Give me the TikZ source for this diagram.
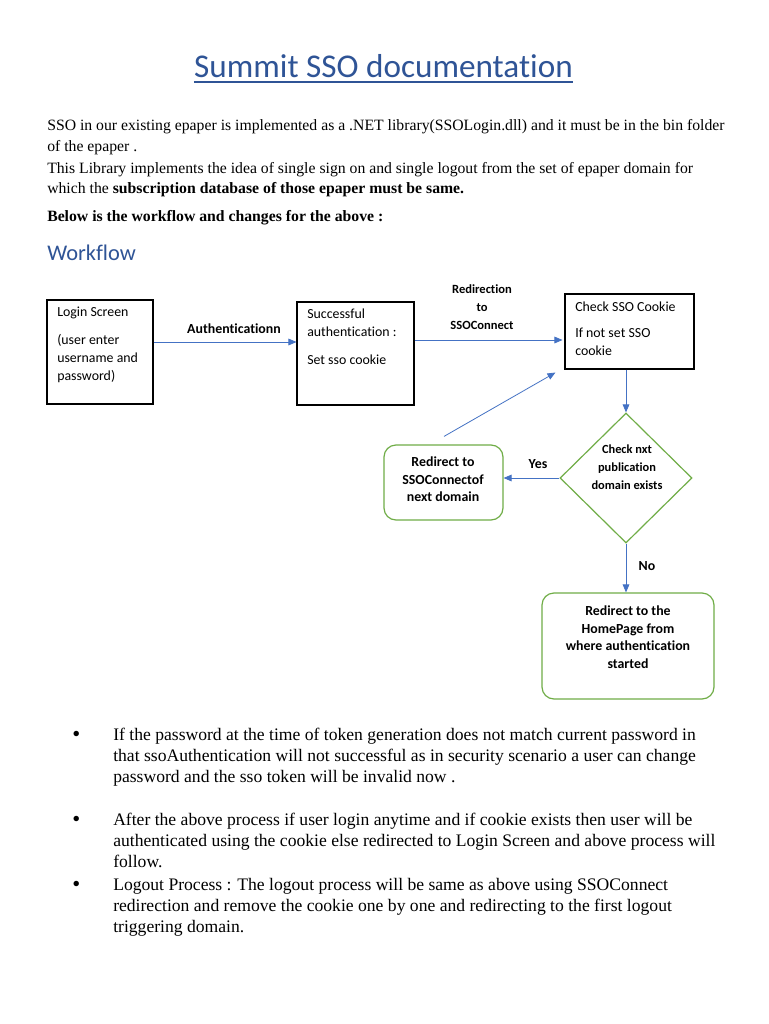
\documentclass[tikz,border=0pt]{standalone}
\usepackage{fontspec}
\setmainfont{Liberation Serif}
\newfontfamily\calibri{Carlito}[Ligatures=NoCommon]
\usetikzlibrary{arrows.meta,shapes.geometric}
\definecolor{titleblue}{HTML}{2F5496}
\definecolor{flowblue}{HTML}{4472C4}
\definecolor{boxgreen}{HTML}{70AD47}
\begin{document}
\begin{tikzpicture}[x=0.75pt, y=-0.75pt,
    para/.style={anchor=base west, inner sep=0pt, font=\fontsize{11.8}{13}\selectfont},
    item/.style={anchor=base west, inner sep=0pt, font=\fontsize{13.2}{15}\selectfont},
    dot/.style={anchor=base west, inner sep=0pt, font=\fontsize{17}{15}\selectfont},
    plainbox/.style={draw=black, line width=0.8pt, inner sep=0pt},
    greenbox/.style={draw=boxgreen, line width=0.9pt, rounded corners=9pt, inner sep=0pt},
    boxtext/.style={anchor=north west, inner sep=0pt, align=left, font=\calibri\fontsize{10.4}{13.5}\selectfont},
    greentext/.style={inner sep=0pt, align=center, font=\calibri\bfseries\fontsize{10.4}{13.2}\selectfont},
    flowlabel/.style={inner sep=0pt, align=center, font=\calibri\bfseries\fontsize{10.4}{13.5}\selectfont},
    flow/.style={draw=flowblue, line width=0.6pt, -{Triangle[length=6pt,width=5pt]}}]
    \useasboundingbox[fill=white] (0,0) rectangle (768,1024);

    % heading and text above the workflow
    \node[anchor=base, inner sep=0pt, text=titleblue, font=\calibri\fontsize{24.9}{28}\selectfont] (title) at (383.5,78) {Summit SSO documentation};
    \draw[titleblue, line width=0.9pt] ([shift={(0,4)}]title.base west) -- ([shift={(0,4)}]title.base east);
    \node[para] (p1) at (47,130) {SSO in our existing epaper is implemented as a .NET library(SSOLogin.dll) and it must be in the bin folder};
    \node[para] (p2) at (47,151) {of the epaper .};
    \node[para] (p3) at (47,173) {This Library implements the idea of single sign on and single logout from the set of epaper domain for};
    \node[para] (p4) at (47,193) {which the \textbf{subscription database of those epaper must be same.}};
    \node[para] (p5) at (47,221) {\textbf{Below is the workflow and changes for the above :}};
    \node[anchor=base west, inner sep=0pt, text=titleblue, font=\calibri\fontsize{16.8}{20}\selectfont] (workflow) at (47,260) {Workflow};

    % boxes
    \node[plainbox, minimum width=79.5pt, minimum height=78pt] (login) at (100,352) {};
    \node[plainbox, minimum width=87.75pt, minimum height=77.25pt] (success) at (355.5,353.5) {};
    \node[plainbox, minimum width=96.75pt, minimum height=56.25pt] (check) at (629.5,331.5) {};
    \node[draw=boxgreen, line width=0.9pt, diamond, inner sep=0pt, minimum width=99pt, minimum height=97.5pt] (nxt) at (626,478) {};
    \node[greenbox, minimum width=89.25pt, minimum height=56.25pt] (redir) at (443.5,482.5) {};
    \node[greenbox, minimum width=129pt, minimum height=79.5pt] (home) at (628,646) {};

    % box texts
    \node[boxtext] (logintext) at (57,307) {Login Screen\\[7pt](user enter\\username and\\password)};
    \node[boxtext] (successtext) at (307,309) {Successful\\authentication :\\[7pt]Set sso cookie};
    \node[boxtext] (checktext) at (575,302) {Check SSO Cookie\\[6pt]If not set SSO\\cookie};
    \node[greentext, font=\calibri\bfseries\fontsize{9.3}{13.5}\selectfont] (nxttext) at (627,467) {Check nxt\\publication\\domain exists};
    \node[greentext] (redirtext) at (443,479.5) {Redirect to\\SSOConnectof\\next domain};
    \node[greentext] (hometext) at (628,637) {Redirect to the\\HomePage from\\where authentication\\started};

    % connectors
    \draw[flow] ([shift={(0,-10)}]login.east) -- ([shift={(0,-10)}]login.east -| success.west);
    \draw[flow] ([shift={(0,-13.5)}]success.east) -- ([shift={(-2,-13.5)}]success.east -| check.west);
    \draw[flow] (nxt.north |- check.south) -- (nxt.north);
    \draw[flow] (nxt.west) -- (redir.east |- nxt.west);
    \draw[flow] (nxt.south) -- (home.north -| nxt.south);
    \draw[flow] ([shift={(0.5,-8)}]redir.north) -- ([shift={(-9,3)}]check.south west);
    \node[flowlabel] (authlabel) at (234,329) {Authenticationn};
    \node[flowlabel, font=\calibri\bfseries\fontsize{9.4}{13.5}\selectfont] (redirlabel) at (482,307) {Redirection\\to\\SSOConnect};
    \node[flowlabel] (yes) at (538,464) {Yes};
    \node[flowlabel] (no) at (647,566) {No};

    % bullet list
    \node[dot] (b1) at (72,741) {•};
    \node[item] (l1) at (113,740) {If the password at the time of token generation does not match current password in};
    \node[item] (l2) at (113,761) {that ssoAuthentication will not successful as in security scenario a user can change};
    \node[item] (l3) at (113,782) {password and the sso token will be invalid now .};
    \node[dot] (b2) at (72,826) {•};
    \node[item] (l4) at (113,825) {After the above process if user login anytime and if cookie exists then user will be};
    \node[item] (l5) at (113,846) {authenticated using the cookie else redirected to Login Screen and above process will};
    \node[item] (l6) at (113,867) {follow.};
    \node[dot] (b3) at (72,891) {•};
    \node[item] (l7) at (113,890) {Logout Process : The logout process will be same as above using SSOConnect};
    \node[item] (l8) at (113,911) {redirection and remove the cookie one by one and redirecting to the first logout};
    \node[item] (l9) at (113,932) {triggering domain.};
\end{tikzpicture}
\end{document}
